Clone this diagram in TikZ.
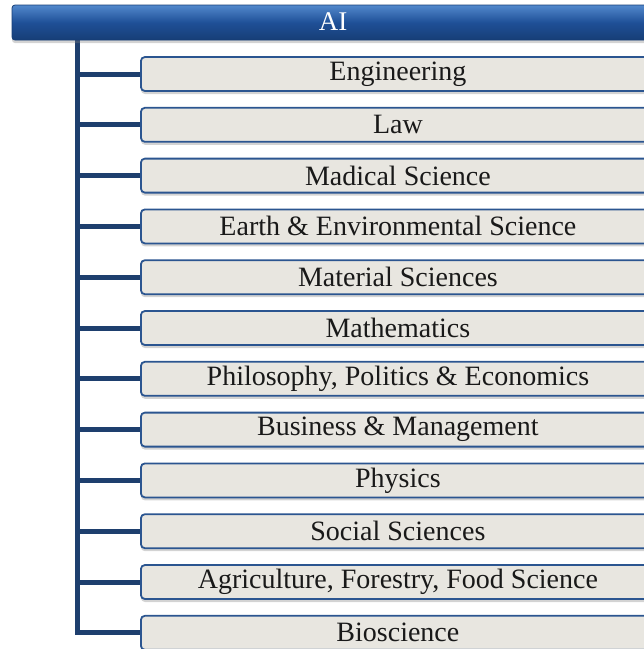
\documentclass[tikz,border=0pt]{standalone}
\usepackage{fontspec}
\setmainfont{Liberation Serif}
\usetikzlibrary{shadows,backgrounds}

\definecolor{barTop}{HTML}{5288CC}
\definecolor{barMid}{HTML}{1F5097}
\definecolor{barBot}{HTML}{163E76}
\definecolor{boxFill}{HTML}{E8E6E0}
\definecolor{boxEdge}{HTML}{2B5590}
\definecolor{trunkCol}{HTML}{1E3F6E}

\tikzset{
  headbar/.style={rectangle, rounded corners=3pt, minimum width=642pt, minimum height=35pt,
    top color=barTop, bottom color=barBot, middle color=barMid, draw=barBot, line width=0.8pt,
    text=white, font=\fontsize{27}{30}\selectfont, inner sep=0pt,
    drop shadow={opacity=0.35, shadow xshift=0pt, shadow yshift=-3pt}},
  field/.style={rectangle, rounded corners=4pt, minimum width=514pt, minimum height=34pt,
    fill=boxFill, draw=boxEdge, line width=1.8pt, anchor=west, inner sep=0pt,
    text=black!90, font=\fontsize{28}{30}\selectfont,
    drop shadow={opacity=0.35, shadow xshift=0pt, shadow yshift=-3pt}},
  conn/.style={draw=trunkCol, line width=5pt}
}

\begin{document}
\begin{tikzpicture}[x=1pt, y=-1pt]
  \useasboundingbox (0,0) rectangle (644,649);

  \node[headbar] (ai) at (333,22.5) {\raisebox{1pt}{AI}};

  \foreach \name [count=\i from 0] in {Engineering, Law, Madical Science,
      Earth \& Environmental Science, Material Sciences, Mathematics,
      {Philosophy, Politics \& Economics}, Business \& Management, Physics,
      Social Sciences, {Agriculture, Forestry, Food Science}, Bioscience}
    \node[field] (b\i) at (140, 74+\i*50.8) {\raisebox{-1pt}{\name}};

  \coordinate (trunk) at (77,40);

  \begin{scope}[on background layer]
    \draw[conn] (trunk) |- (b11.west);
    \foreach \i in {0,...,10}
      \draw[conn] (trunk |- b\i.west) -- (b\i.west);
  \end{scope}
\end{tikzpicture}
\end{document}
